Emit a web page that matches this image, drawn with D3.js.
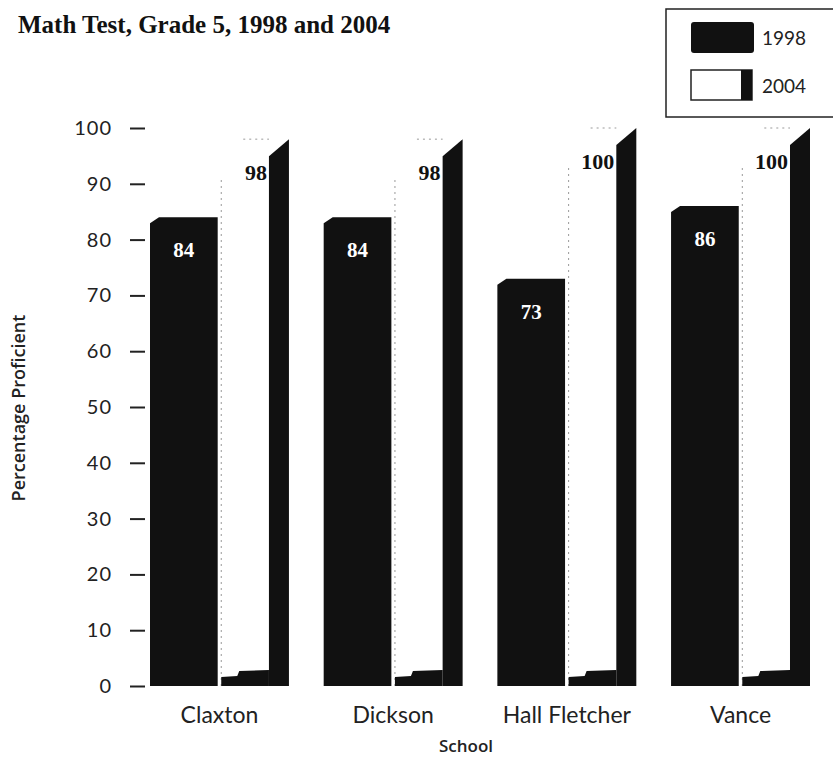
<!DOCTYPE html>
<html>
<head>
<meta charset="utf-8">
<script src="https://cdn.jsdelivr.net/npm/d3@7"></script>
<style>
  body { margin: 0; background: #fff; }
</style>
</head>
<body>
<div id="chart"></div>
<script>
var schools = ["Claxton", "Dickson", "Hall Fletcher", "Vance"];
var years = ["1998", "2004"];
var values1998 = [84, 84, 73, 86];
var values2004 = [98, 98, 100, 100];
var yTicks = [0, 10, 20, 30, 40, 50, 60, 70, 80, 90, 100];

var width = 833, height = 758;
var margin = { top: 128, right: 23, bottom: 72, left: 150 };

var data = schools.map((s, i) => ({ school: s, v1998: values1998[i], v2004: values2004[i] }))

var svg = d3.select("#chart").append("svg")
    .attr("width", width)
    .attr("height", height)
    .style("background", "#fff");

var x = d3.scaleBand()
    .domain(schools)
    .range([margin.left, width - margin.right])
    .paddingInner(0.2)
var x1 = d3.scaleBand()
    .domain(years)
    .range([0, x.bandwidth()])
    .paddingInner(0.05)
var y = d3.scaleLinear()
    .domain([0, 100])
    .range([height - margin.bottom, margin.top])

var ink = "#111";
var side = 20; // dark side face of the 2004 bars

// y axis
svg.append("g")
    .attr("transform", `translate(${margin.left - 5}, 0)`)
    .call(d3.axisLeft(y).tickValues(yTicks).tickSize(15).tickPadding(18))
    .call(g => g.select(".domain").remove())
    .call(g => g.selectAll(".tick line").attr("stroke", "#222").attr("stroke-width", 2))
    .call(g => g.selectAll(".tick text")
        .attr("fill", "#222")
        .style("font", "20px Lato")
        .style("letter-spacing", "1px"))

// x axis (labels only)
svg.append("g")
    .attr("transform", `translate(0, ${y(0)})`)
    .call(d3.axisBottom(x).tickSize(0).tickPadding(21))
    .call(g => g.select(".domain").remove())
    .call(g => g.selectAll(".tick text")
        .attr("fill", "#222")
        .style("font", "23px Lato"))

var groups = svg.append("g")
    .selectAll("g")
    .data(data)
    .enter().append("g")
    .attr("transform", d => `translate(${x(d.school)}, 0)`)

// 1998 bars, black with a clipped top-left corner
groups.append("path")
    .attr("fill", ink)
    .attr("d", d => {
        var l = x1("1998"), r = l + x1.bandwidth(), t = y(d.v1998), b = y(0);
        return `M${l},${t + 6}L${l + 9},${t}L${r},${t}L${r},${b}L${l},${b}Z`
    })

// 2004 bars: white front, dark right side and floor
groups.append("rect")
    .attr("x", x1("2004"))
    .attr("y", d => y(d.v2004))
    .attr("width", x1.bandwidth() - side)
    .attr("height", d => y(0) - y(d.v2004))
    .attr("fill", "#fff")

groups.append("path")
    .attr("fill", "none")
    .attr("stroke", "#999")
    .attr("stroke-dasharray", "2,4")
    .attr("d", d => {
        var l = x1("2004"), r = l + x1.bandwidth() - side, t = y(d.v2004), b = y(0);
        return `M${l},${b}L${l},${t + 40}M${l + 22},${t}L${r},${t}`
    })

groups.append("path")
    .attr("fill", ink)
    .attr("d", d => {
        var r = x1("2004") + x1.bandwidth(), t = y(d.v2004), b = y(0);
        return `M${r},${t}L${r},${b}L${r - side},${b}L${r - side},${t + 17}Z`
    })

groups.append("path")
    .attr("fill", ink)
    .attr("d", d => {
        var l = x1("2004"), r = l + x1.bandwidth() - side, b = y(0);
        return `M${l},${b}L${l},${b - 9}L${l + 16},${b - 10}L${l + 18},${b - 15}L${r},${b - 16}L${r},${b}Z`
    })

// value labels
groups.append("text")
    .attr("x", x1("1998") + x1.bandwidth() / 2)
    .attr("y", d => y(d.v1998) + 40)
    .attr("text-anchor", "middle")
    .attr("fill", "#fff")
    .style("font", "bold 21px 'Liberation Serif'")
    .text(d => d.v1998)

groups.append("text")
    .attr("x", x1("2004") + x1.bandwidth() - side - 2)
    .attr("y", d => y(d.v2004) + 41)
    .attr("text-anchor", "end")
    .attr("fill", ink)
    .style("font", "bold 22px 'Liberation Serif'")
    .text(d => d.v2004)

// axis titles
svg.append("text")
    .attr("x", 466)
    .attr("y", 752)
    .attr("text-anchor", "middle")
    .attr("fill", "#222")
    .style("font", "600 17px 'Open Sans'")
    .text("School")

svg.append("text")
    .attr("transform", "translate(25, 408) rotate(-90)")
    .attr("text-anchor", "middle")
    .attr("fill", "#222")
    .style("font", "600 18px 'Open Sans'")
    .text("Percentage Proficient")

// title
svg.append("text")
    .attr("x", 18)
    .attr("y", 33)
    .attr("fill", ink)
    .style("font", "bold 25px 'Liberation Serif'")
    .text("Math Test, Grade 5, 1998 and 2004")

// legend
var legend = svg.append("g").attr("transform", "translate(666, 9)")
legend.append("rect")
    .attr("width", 180)
    .attr("height", 108)
    .attr("fill", "none")
    .attr("stroke", "#222")
    .attr("stroke-width", 1.5)
legend.append("rect")
    .attr("x", 25).attr("y", 13)
    .attr("width", 63).attr("height", 31)
    .attr("rx", 3)
    .attr("fill", ink)
legend.append("rect")
    .attr("x", 25).attr("y", 61)
    .attr("width", 61).attr("height", 30)
    .attr("fill", "#fff")
    .attr("stroke", "#222")
    .attr("stroke-width", 1.5)
legend.append("rect")
    .attr("x", 75).attr("y", 61)
    .attr("width", 11).attr("height", 30)
    .attr("fill", ink)
legend.selectAll(".lab")
    .data(years)
    .enter().append("text")
    .attr("x", 96)
    .attr("y", (d, i) => 36 + i * 48)
    .attr("fill", "#222")
    .style("font", "19px Lato")
    .text(d => d)
</script>
</body>
</html>
